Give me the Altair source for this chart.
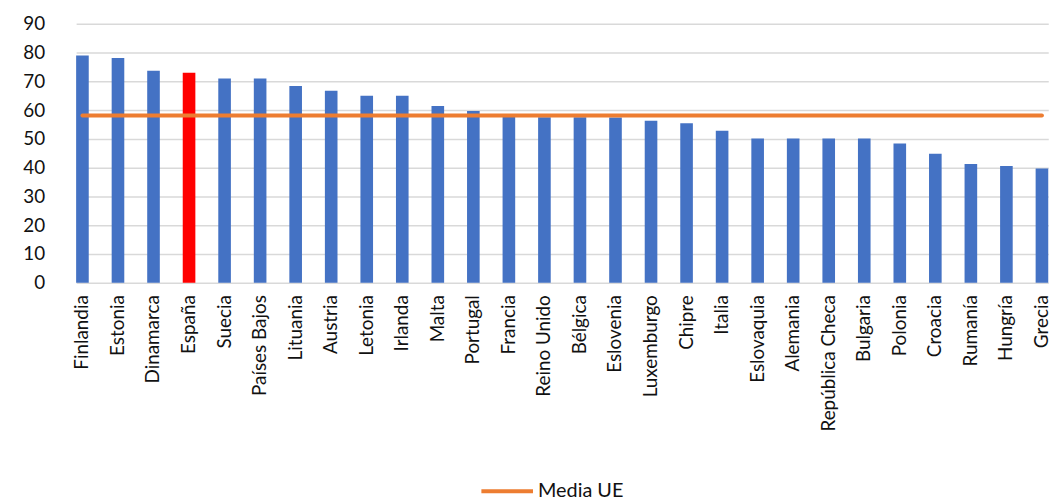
import altair as alt
import pandas as pd

paises = ["Finlandia", "Estonia", "Dinamarca", "España", "Suecia", "Países Bajos",
          "Lituania", "Austria", "Letonia", "Irlanda", "Malta", "Portugal", "Francia",
          "Reino Unido", "Bélgica", "Eslovenia", "Luxemburgo", "Chipre", "Italia",
          "Eslovaquia", "Alemania", "República Checa", "Bulgaria", "Polonia",
          "Croacia", "Rumanía", "Hungría", "Grecia"]
valores = [79.0, 78.1, 73.7, 73.0, 71.0, 71.0, 68.4, 66.7, 65.0, 65.0, 61.4, 59.7,
           57.9, 57.5, 57.5, 57.4, 56.3, 55.4, 52.8, 50.1, 50.1, 50.1, 50.1, 48.4,
           44.8, 41.3, 40.6, 39.7]
media_ue = 58.1
serie_media = "Media UE"
ticks_y = [0, 10, 20, 30, 40, 50, 60, 70, 80, 90]

df = pd.DataFrame({"pais": paises, "valor": valores})
df["media"] = media_ue
df["serie"] = serie_media

FONT = "Lato"

x_axis = alt.Axis(labelAngle=-90, labelAlign="right", labelBaseline="middle",
                  labelFontSize=19, labelFont=FONT, labelColor="#111111",
                  labelPadding=12, ticks=False, domain=False, grid=False,
                  labelOverlap=False, labelBound=False)
y_axis = alt.Axis(values=ticks_y, labelFontSize=19, labelFont=FONT,
                  labelColor="#111111", labelPadding=20, ticks=False, domain=False,
                  gridColor="#d9d9d9", gridWidth=1.5, labelOverlap=False,
                  labelBound=False)
x_scale = alt.Scale(paddingInner=0.645, paddingOuter=0, range=[11.65, 991.2])
y_scale = alt.Scale(domain=[0, 90], nice=False)

bars = alt.Chart(df).mark_bar().encode(
    x=alt.X("pais:N", sort=paises, title=None, scale=x_scale, axis=x_axis),
    y=alt.Y("valor:Q", title=None, scale=y_scale, axis=y_axis),
    color=alt.condition(alt.datum.pais == "España", alt.value("#FF0000"), alt.value("#4472C4")),
)

line = alt.Chart(df).mark_line(strokeWidth=4, strokeCap="round").encode(
    x=alt.X("pais:N", sort=paises, title=None, scale=x_scale, axis=x_axis),
    y=alt.Y("media:Q", title=None, scale=y_scale, axis=y_axis),
    color=alt.Color("serie:N", scale=alt.Scale(domain=[serie_media], range=["#ED7D31"]),
                    legend=alt.Legend(title=None, orient="none", legendX=418, legendY=443,
                                      symbolType="stroke", symbolSize=2704,
                                      symbolStrokeWidth=4, labelFontSize=20, labelFont=FONT,
                                      labelColor="#111111", labelOffset=3)),
)

chart = alt.layer(bars, line).properties(
    width=998, height=261,
    padding={"left": 57, "top": 14, "right": 0, "bottom": 220},
    autosize=alt.AutoSizeParams(type="none"),
).configure_view(stroke=None)

chart.save("out.html", embed_options={"renderer": "svg", "actions": False})
